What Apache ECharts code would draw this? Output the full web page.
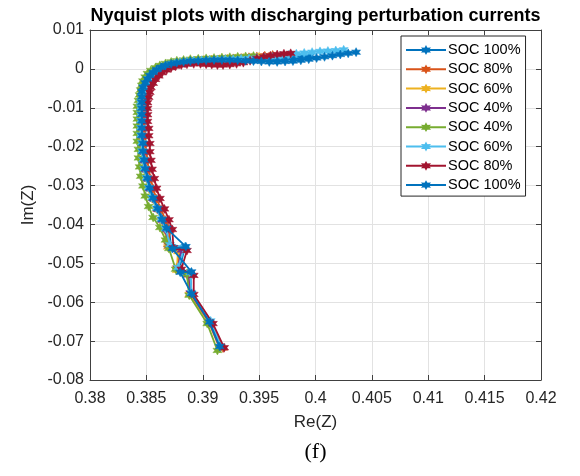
<!DOCTYPE html>
<html>
<head>
<meta charset="utf-8">
<script src="https://cdn.jsdelivr.net/npm/echarts@6/dist/echarts.min.js"></script>
<style>
  html, body { margin: 0; padding: 0; background: #fff; }
  #main { width: 580px; height: 476px; }
</style>
</head>
<body>
<div id="main"></div>
<script>
// legend labels (order as in the figure)
var socLabels = ['SOC 100%', 'SOC 80%', 'SOC 60%', 'SOC 40%', 'SOC 40%', 'SOC 60%', 'SOC 80%', 'SOC 100%']
var socColors = ['#0072BD', '#D95319', '#EDB120', '#7E2F8E', '#77AC30', '#4DBEEE', '#A2142F', '#0072BD']

// [Re(Z), Im(Z)]
var soc100a = [[0.3995,0.0033],[0.3988,0.0032],[0.3981,0.0030],[0.3974,0.0029],[0.3967,0.0027],[0.3960,0.0026],[0.3953,0.0026],[0.3946,0.0025],[0.3939,0.0024],[0.3932,0.0023],[0.3925,0.0023],[0.3918,0.0022],[0.3911,0.0021],[0.3904,0.0021],[0.3897,0.0019],[0.3890,0.0018],[0.3884,0.0016],[0.3878,0.0014],[0.3873,0.0011],[0.3868,0.0007],[0.3864,0.0002],[0.3860,-0.0004],[0.3856,-0.0012],[0.3853,-0.0020],[0.3851,-0.0029],[0.3849,-0.0039],[0.3848,-0.0050],[0.3847,-0.0062],[0.3846,-0.0075],[0.3846,-0.0089],[0.3846,-0.0104],[0.3846,-0.0120],[0.3846,-0.0137],[0.3846,-0.0155],[0.3847,-0.0174],[0.3847,-0.0194],[0.3848,-0.0215],[0.3849,-0.0237],[0.3850,-0.0260],[0.3852,-0.0284],[0.3854,-0.0309],[0.3857,-0.0335],[0.3861,-0.0362],[0.3866,-0.0390],[0.3870,-0.0412],[0.3872,-0.0457],[0.3884,-0.0462],[0.3879,-0.0516],[0.3889,-0.0528],[0.3890,-0.0579],[0.3906,-0.0652],[0.3916,-0.0716]]
var soc80a = [[0.3962,0.0036],[0.3955,0.0034],[0.3948,0.0032],[0.3941,0.0030],[0.3934,0.0028],[0.3927,0.0027],[0.3920,0.0025],[0.3913,0.0024],[0.3906,0.0022],[0.3899,0.0021],[0.3892,0.0019],[0.3886,0.0017],[0.3880,0.0014],[0.3875,0.0011],[0.3870,0.0007],[0.3866,0.0002],[0.3862,-0.0004],[0.3859,-0.0011],[0.3856,-0.0019],[0.3854,-0.0028],[0.3852,-0.0038],[0.3851,-0.0049],[0.3850,-0.0061],[0.3849,-0.0074],[0.3848,-0.0088],[0.3848,-0.0103],[0.3848,-0.0119],[0.3848,-0.0136],[0.3848,-0.0154],[0.3849,-0.0173],[0.3849,-0.0193],[0.3850,-0.0214],[0.3851,-0.0236],[0.3852,-0.0259],[0.3854,-0.0283],[0.3856,-0.0308],[0.3859,-0.0334],[0.3863,-0.0361],[0.3867,-0.0389],[0.3871,-0.0414],[0.3869,-0.0452],[0.3880,-0.0465],[0.3877,-0.0512],[0.3887,-0.0530],[0.3889,-0.0577],[0.3907,-0.0654],[0.3918,-0.0718]]
var soc60a = [[0.3950,0.0031],[0.3943,0.0029],[0.3936,0.0028],[0.3929,0.0027],[0.3922,0.0026],[0.3915,0.0025],[0.3908,0.0024],[0.3901,0.0023],[0.3894,0.0021],[0.3888,0.0020],[0.3882,0.0018],[0.3877,0.0016],[0.3872,0.0012],[0.3867,0.0008],[0.3863,0.0003],[0.3859,-0.0003],[0.3856,-0.0010],[0.3853,-0.0018],[0.3850,-0.0027],[0.3848,-0.0037],[0.3847,-0.0048],[0.3846,-0.0060],[0.3845,-0.0073],[0.3845,-0.0087],[0.3845,-0.0102],[0.3845,-0.0118],[0.3845,-0.0135],[0.3845,-0.0153],[0.3845,-0.0172],[0.3846,-0.0192],[0.3846,-0.0213],[0.3847,-0.0235],[0.3848,-0.0258],[0.3850,-0.0282],[0.3852,-0.0307],[0.3855,-0.0333],[0.3859,-0.0360],[0.3863,-0.0388],[0.3866,-0.0413],[0.3869,-0.0458],[0.3878,-0.0470],[0.3877,-0.0518],[0.3886,-0.0526],[0.3888,-0.0580],[0.3905,-0.0650],[0.3915,-0.0719]]
var soc40a = [[0.3940,0.0026],[0.3933,0.0025],[0.3926,0.0024],[0.3919,0.0023],[0.3912,0.0022],[0.3905,0.0021],[0.3898,0.0020],[0.3891,0.0018],[0.3885,0.0016],[0.3879,0.0014],[0.3874,0.0011],[0.3869,0.0007],[0.3865,0.0002],[0.3861,-0.0004],[0.3857,-0.0011],[0.3854,-0.0019],[0.3852,-0.0028],[0.3850,-0.0038],[0.3848,-0.0049],[0.3847,-0.0061],[0.3846,-0.0074],[0.3846,-0.0088],[0.3846,-0.0103],[0.3846,-0.0119],[0.3846,-0.0136],[0.3846,-0.0154],[0.3846,-0.0173],[0.3847,-0.0193],[0.3847,-0.0214],[0.3848,-0.0236],[0.3849,-0.0259],[0.3851,-0.0283],[0.3853,-0.0308],[0.3856,-0.0334],[0.3860,-0.0361],[0.3864,-0.0389],[0.3867,-0.0414],[0.3870,-0.0455],[0.3881,-0.0466],[0.3878,-0.0513],[0.3887,-0.0529],[0.3889,-0.0576],[0.3906,-0.0653],[0.3915,-0.0717]]
var soc40b = [[0.3945,0.0033],[0.3938,0.0032],[0.3931,0.0031],[0.3924,0.0030],[0.3917,0.0029],[0.3910,0.0028],[0.3903,0.0027],[0.3896,0.0026],[0.3889,0.0025],[0.3883,0.0023],[0.3877,0.0021],[0.3872,0.0018],[0.3867,0.0014],[0.3862,0.0009],[0.3858,0.0003],[0.3854,-0.0004],[0.3851,-0.0012],[0.3849,-0.0021],[0.3847,-0.0031],[0.3846,-0.0042],[0.3845,-0.0054],[0.3844,-0.0067],[0.3843,-0.0081],[0.3842,-0.0096],[0.3842,-0.0112],[0.3842,-0.0129],[0.3842,-0.0147],[0.3842,-0.0166],[0.3842,-0.0186],[0.3843,-0.0207],[0.3843,-0.0229],[0.3844,-0.0252],[0.3845,-0.0276],[0.3847,-0.0301],[0.3849,-0.0327],[0.3852,-0.0354],[0.3856,-0.0382],[0.3862,-0.0408],[0.3867,-0.0440],[0.3870,-0.0462],[0.3876,-0.0515],[0.3886,-0.0528],[0.3888,-0.0582],[0.3904,-0.0655],[0.3913,-0.0724]]
var soc60b = [[0.4025,0.0049],[0.4018,0.0047],[0.4011,0.0046],[0.4004,0.0045],[0.3997,0.0043],[0.3990,0.0041],[0.3983,0.0039],[0.3976,0.0036],[0.3969,0.0033],[0.3962,0.0031],[0.3955,0.0029],[0.3948,0.0028],[0.3941,0.0027],[0.3934,0.0026],[0.3927,0.0025],[0.3920,0.0025],[0.3913,0.0024],[0.3906,0.0023],[0.3899,0.0022],[0.3892,0.0021],[0.3886,0.0019],[0.3880,0.0017],[0.3875,0.0014],[0.3870,0.0010],[0.3866,0.0005],[0.3862,-0.0001],[0.3858,-0.0008],[0.3855,-0.0016],[0.3852,-0.0025],[0.3850,-0.0035],[0.3848,-0.0046],[0.3847,-0.0058],[0.3846,-0.0071],[0.3845,-0.0085],[0.3845,-0.0100],[0.3845,-0.0116],[0.3845,-0.0133],[0.3845,-0.0151],[0.3845,-0.0170],[0.3846,-0.0190],[0.3846,-0.0211],[0.3847,-0.0233],[0.3848,-0.0256],[0.3850,-0.0280],[0.3852,-0.0305],[0.3855,-0.0331],[0.3859,-0.0358],[0.3863,-0.0386],[0.3867,-0.0411],[0.3871,-0.0452],[0.3884,-0.0458],[0.3878,-0.0511],[0.3889,-0.0524],[0.3890,-0.0575],[0.3907,-0.0648],[0.3916,-0.0713]]
var soc80b = [[0.3978,0.0040],[0.3972,0.0039],[0.3966,0.0037],[0.3960,0.0034],[0.3954,0.0031],[0.3948,0.0027],[0.3942,0.0021],[0.3936,0.0016],[0.3930,0.0013],[0.3924,0.0011],[0.3918,0.0010],[0.3913,0.0010],[0.3908,0.0011],[0.3903,0.0012],[0.3898,0.0013],[0.3892,0.0013],[0.3886,0.0012],[0.3881,0.0010],[0.3876,0.0007],[0.3872,0.0003],[0.3868,-0.0003],[0.3864,-0.0010],[0.3861,-0.0018],[0.3858,-0.0027],[0.3856,-0.0037],[0.3854,-0.0048],[0.3853,-0.0060],[0.3852,-0.0073],[0.3851,-0.0087],[0.3851,-0.0102],[0.3851,-0.0118],[0.3851,-0.0135],[0.3852,-0.0153],[0.3852,-0.0172],[0.3853,-0.0192],[0.3853,-0.0213],[0.3854,-0.0235],[0.3855,-0.0258],[0.3857,-0.0282],[0.3859,-0.0307],[0.3862,-0.0333],[0.3866,-0.0360],[0.3870,-0.0388],[0.3873,-0.0413],[0.3874,-0.0460],[0.3886,-0.0467],[0.3881,-0.0515],[0.3892,-0.0531],[0.3892,-0.0580],[0.3909,-0.0655],[0.3919,-0.0717]]
var soc100b = [[0.4036,0.0043],[0.4029,0.0040],[0.4022,0.0037],[0.4015,0.0034],[0.4008,0.0031],[0.4001,0.0028],[0.3994,0.0025],[0.3987,0.0022],[0.3980,0.0020],[0.3973,0.0019],[0.3966,0.0018],[0.3959,0.0018],[0.3952,0.0019],[0.3945,0.0020],[0.3938,0.0021],[0.3931,0.0022],[0.3924,0.0023],[0.3917,0.0023],[0.3910,0.0023],[0.3903,0.0022],[0.3896,0.0021],[0.3889,0.0020],[0.3883,0.0018],[0.3877,0.0016],[0.3872,0.0013],[0.3867,0.0009],[0.3863,0.0004],[0.3859,-0.0002],[0.3856,-0.0009],[0.3853,-0.0017],[0.3851,-0.0026],[0.3849,-0.0036],[0.3847,-0.0047],[0.3846,-0.0059],[0.3846,-0.0072],[0.3846,-0.0086],[0.3846,-0.0101],[0.3846,-0.0117],[0.3846,-0.0134],[0.3846,-0.0152],[0.3846,-0.0171],[0.3847,-0.0191],[0.3847,-0.0212],[0.3848,-0.0234],[0.3849,-0.0257],[0.3851,-0.0281],[0.3853,-0.0306],[0.3856,-0.0332],[0.3860,-0.0359],[0.3864,-0.0387],[0.3868,-0.0410],[0.3885,-0.0457],[0.3873,-0.0462],[0.3890,-0.0522],[0.3880,-0.0523],[0.3890,-0.0578],[0.3906,-0.0651],[0.3915,-0.0714]]

var allSeries = [soc100a, soc80a, soc60a, soc40a, soc40b, soc60b, soc80b, soc100b]
var seriesIds = ['d1', 'd2', 'd3', 'd4', 'd5', 'd6', 'd7', 'd8']

// fat 6-point star, close to matlab '*' once blurred
var starMark = 'path://M0,-10L2.6,-4.5L8.66,-5L5.2,0L8.66,5L2.6,4.5L0,10L-2.6,4.5L-8.66,5L-5.2,0L-8.66,-5L-2.6,-4.5Z'

var axisCol = '#404040'
var txtCol = '#262626'
var fontFam = '"Liberation Sans", Arial, sans-serif'

var myChart = echarts.init(document.getElementById('main'))

var option = {
  animation: false,
  backgroundColor: '#fff',
  textStyle: { fontFamily: fontFam },
  grid: { left: 90, right: 39, top: 30, bottom: 96 },
  graphic: [
    {
      type: 'text', x: 315.5, y: 16,
      style: {
        text: 'Nyquist plots with discharging perturbation currents',
        font: 'bold 18px ' + fontFam, fill: '#000',
        textAlign: 'center', textVerticalAlign: 'middle'
      }
    },
    {
      type: 'text', x: 315.5, y: 452,
      style: {
        text: '(f)', font: '22px "Liberation Serif", "Times New Roman", serif', fill: '#000',
        textAlign: 'center', textVerticalAlign: 'middle'
      }
    }
  ],
  legend: {
    orient: 'vertical',
    left: 401,
    top: 36,
    padding: [6, 5, 3, 4],
    itemWidth: 40,
    itemHeight: 7,
    itemGap: 3.3,
    backgroundColor: '#fff',
    borderColor: '#262626',
    borderWidth: 1,
    data: seriesIds,
    formatter: function (name) {
      return socLabels[seriesIds.indexOf(name)]
    },
    textStyle: { fontSize: 14.5, color: '#000', fontFamily: fontFam, lineHeight: 16, padding: [0, 0, 0, -3] }
  },
  xAxis: [
    {
      type: 'value', min: 0.38, max: 0.42, interval: 0.005,
      name: 'Re(Z)', nameLocation: 'middle', nameGap: 34,
      nameTextStyle: { fontSize: 17, color: txtCol },
      axisLine: { onZero: false, lineStyle: { color: axisCol } },
      axisTick: { inside: true, length: 5, lineStyle: { color: axisCol } },
      axisLabel: { fontSize: 16, color: txtCol, margin: 11 },
      splitLine: { show: true, lineStyle: { color: '#e2e2e2' } }
    },
    {
      type: 'value', position: 'top', min: 0.38, max: 0.42, interval: 0.005,
      axisLine: { onZero: false, lineStyle: { color: axisCol } },
      axisTick: { inside: true, length: 5, lineStyle: { color: axisCol } },
      axisLabel: { show: false },
      splitLine: { show: false }
    }
  ],
  yAxis: [
    {
      type: 'value', min: -0.08, max: 0.01, interval: 0.01,
      name: 'Im(Z)', nameLocation: 'middle', nameGap: 50,
      nameTextStyle: { fontSize: 17, color: txtCol },
      axisLine: { show: true, onZero: false, lineStyle: { color: axisCol } },
      axisTick: { show: true, inside: true, length: 5, lineStyle: { color: axisCol } },
      axisLabel: { fontSize: 16, color: txtCol, margin: 6 },
      splitLine: { show: true, lineStyle: { color: '#e2e2e2' } }
    },
    {
      type: 'value', position: 'right', min: -0.08, max: 0.01, interval: 0.01,
      axisLine: { show: true, onZero: false, lineStyle: { color: axisCol } },
      axisTick: { show: true, inside: true, length: 5, lineStyle: { color: axisCol } },
      axisLabel: { show: false },
      splitLine: { show: false }
    }
  ],
  series: allSeries.map(function (pts, i) {
    return {
      id: seriesIds[i],
      name: seriesIds[i],
      type: 'line',
      data: pts,
      symbol: starMark,
      symbolSize: 9,
      showSymbol: true,
      lineStyle: { width: 1.8, color: socColors[i] },
      itemStyle: { color: socColors[i], borderColor: socColors[i], borderWidth: 0.5 },
      z: 2 + i
    }
  })
}

myChart.setOption(option)
</script>
</body>
</html>
